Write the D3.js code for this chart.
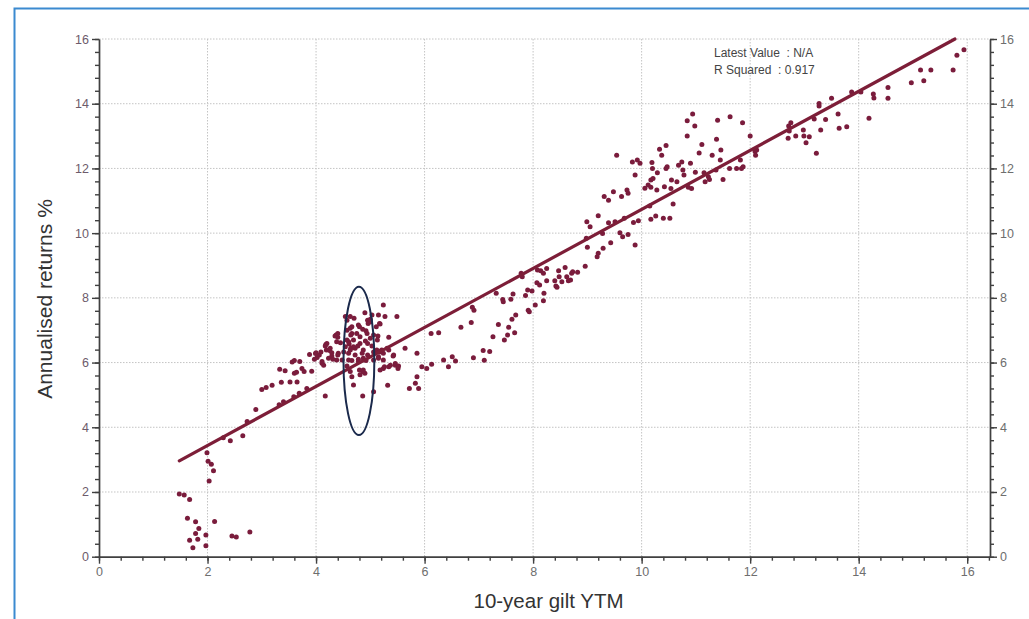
<!DOCTYPE html>
<html>
<head>
<meta charset="utf-8">
<script src="https://cdn.jsdelivr.net/npm/d3@7"></script>
<style>
  html, body { margin: 0; padding: 0; background: #fff; }
  svg { display: block; font-family: 'Liberation Sans', Arial, sans-serif; }
  .grid line { stroke: #c4c4c4; stroke-dasharray: 1.5,1.5; }
  .axis path, .axis line { stroke: #404040; stroke-width: 1.4; }
  .axis text { fill: #6e6e6e; font-size: 12.5px; }
  .axis-left text { fill: #6d5b6b; }
</style>
</head>
<body>
<svg id="chart" width="1029" height="619"></svg>
<script>
// [10-year gilt YTM, annualised return %]
var observations = [
  [1.48,1.94],[1.57,1.91],[1.67,1.77],[1.63,1.19],[1.78,1.08],[1.84,0.87],[1.78,0.72],[1.67,0.51],
  [1.82,0.54],[1.73,0.28],[1.97,0.67],[1.97,0.34],[2.13,1.09],[1.99,3.21],[2.01,2.95],[2.07,2.86],
  [2.11,2.66],[2.03,2.34],[2.45,0.64],[2.53,0.61],[2.78,0.76],[2.42,3.58],[2.65,3.74],[2.89,4.55],
  [2.73,4.18],[2.29,3.68],[3.32,4.70],[3.40,4.79],[3.59,4.94],
  [3.00,5.17],[3.08,5.23],[3.19,5.30],[3.33,5.79],[3.43,5.75],[3.36,5.39],[3.52,5.40],[3.65,5.40],
  [3.56,6.02],[3.60,6.06],[3.70,6.03],[3.60,5.67],[3.64,5.70],[3.74,5.82],[3.78,5.72],[3.92,5.73],
  [3.69,5.05],[3.83,5.20],[3.88,6.25],[3.99,6.28],[4.02,6.16],[4.06,6.23],[3.97,6.10],[4.11,5.98],
  [4.14,5.92],[4.18,6.56],[4.19,6.39],[4.25,6.37],[4.29,6.20],[4.31,6.10],[4.37,6.85],[4.40,6.78],
  [4.41,6.29],[4.48,6.08],[4.17,4.97],[4.54,7.42],[4.57,7.31],[4.63,7.06],[4.66,6.90],[4.69,6.70],
  [4.60,6.64],[4.70,7.37],[4.80,7.11],[4.75,6.90],[4.81,6.59],[4.72,6.44],[4.63,6.39],[4.87,6.39],
  [4.92,6.98],[4.90,7.54],[4.95,7.31],[5.00,7.26],[5.03,7.47],[5.15,7.47],[5.24,7.78],[5.27,7.42],
  [5.49,7.42],[5.18,7.19],[5.14,6.82],[5.00,6.75],[4.87,6.13],[4.78,6.10],[4.60,6.08],[4.57,5.89],
  [4.63,5.72],[4.87,5.77],[4.90,5.67],[4.66,5.56],[4.69,5.31],[4.86,4.97],[5.06,5.10],[5.12,6.39],
  [5.18,6.34],[5.24,6.29],[5.34,6.78],[5.34,6.39],[5.15,6.18],[5.24,6.08],[5.42,6.20],[5.34,5.87],
  [5.24,5.82],[5.46,5.92],[5.51,5.82],[5.32,5.30],[5.64,6.44],[5.86,6.29],[5.95,5.87],[6.04,5.82],
  [6.13,5.95],[6.12,6.90],[6.26,6.92],[6.35,6.08],[6.44,5.87],[5.86,5.56],[5.83,5.36],[5.72,5.20],
  [5.89,5.20],
  [5.00,7.34],[4.96,7.21],[4.63,7.42],[4.66,7.11],[4.78,7.16],[4.86,7.03],[4.57,7.00],[4.64,6.85],
  [4.94,6.90],[5.11,7.11],[5.17,7.21],[4.40,6.90],[4.35,6.82],[4.38,6.64],[4.45,6.61],[4.57,6.70],
  [4.61,6.57],[4.81,6.80],[4.91,6.67],[5.06,6.85],[5.13,6.70],[4.54,6.49],[4.64,6.44],[4.69,6.49],
  [4.77,6.51],[4.95,6.59],[5.03,6.51],[4.51,6.33],[4.60,6.29],[4.72,6.23],[4.85,6.29],[4.95,6.23],
  [5.06,6.33],[5.17,6.33],[5.21,6.39],[5.31,6.44],[5.15,6.13],[5.06,6.08],[4.92,6.06],[4.66,6.06],
  [4.38,6.08],[4.29,6.30],[4.26,6.44],[4.20,6.59],[4.17,6.51],[4.09,6.33],[4.00,6.30],[4.11,6.03],
  [4.23,6.13],[4.40,6.23],[4.78,6.03],[4.80,5.77],[4.86,5.72],[4.81,5.62],[5.18,5.77],[5.26,5.87],
  [5.37,5.92],[5.46,5.97],[5.43,6.23],[5.52,5.89],
  [6.51,6.18],[6.57,6.05],[6.67,7.09],[6.86,7.24],[6.88,7.71],[6.91,7.62],[6.90,6.15],[7.08,6.37],
  [7.10,6.07],[7.20,6.34],[7.26,6.80],[7.32,8.14],[7.36,7.18],[7.44,7.95],[7.45,7.88],[7.47,6.70],
  [7.53,6.85],[7.55,7.09],[7.59,7.96],[7.63,8.12],[7.61,7.34],[7.66,6.92],[7.68,7.47],[7.78,8.76],
  [7.80,8.65],[7.86,8.07],[7.90,8.24],[7.91,7.62],[7.93,7.57],[7.98,8.21],[8.04,7.78],[8.07,8.47],
  [8.12,8.40],[8.08,8.86],[8.14,8.84],[8.19,8.76],[8.25,8.91],[8.20,8.14],[8.19,7.91],[8.25,8.53],
  [8.42,8.37],[8.44,8.33],[8.40,8.53],[8.47,8.84],[8.48,8.65],[8.53,8.50],[8.59,8.94],[8.62,8.65],
  [8.65,8.53],[8.71,8.76],[8.73,8.81],[8.69,8.55],[8.82,8.79],[8.96,8.98],[8.99,10.35],[9.05,10.20],
  [9.00,9.56],[8.98,9.84],[9.18,9.27],[9.20,9.38],[9.20,10.54],
  [9.29,9.53],[9.28,9.99],[9.31,11.13],[9.39,11.02],[9.39,10.32],[9.43,9.70],[9.48,11.28],[9.54,12.41],
  [9.51,10.35],[9.60,10.01],[9.63,11.13],[9.65,9.89],[9.68,10.46],[9.73,11.33],[9.75,11.23],[9.75,9.96],
  [9.85,10.33],[9.88,9.63],[9.83,12.20],[9.88,11.80],[9.92,12.26],[9.97,12.16],[9.94,10.38],[10.06,11.39],
  [10.12,11.49],[10.17,11.42],[10.17,10.43],[10.15,10.84],[10.17,11.64],[10.21,11.69],[10.20,12.00],[10.19,12.18],
  [10.26,10.53],[10.28,11.33],[10.29,11.87],[10.33,12.59],[10.37,12.41],[10.40,10.46],[10.42,11.43],[10.45,12.71],
  [10.45,12.00],[10.47,12.05],[10.52,10.46],[10.55,11.64],[10.54,11.38],[10.58,10.90],[10.65,11.59],[10.68,12.10],
  [10.74,12.20],[10.76,11.95],[10.78,11.80],[10.84,13.00],[10.86,11.42],[10.84,13.47],[10.90,12.16],[10.92,11.38],
  [10.94,13.68],[10.98,13.31],[10.99,11.88],[11.06,12.48],[11.11,12.74],[11.15,11.87],[11.17,11.59],[11.23,11.74],
  [11.25,11.66],[11.30,12.41],[11.37,11.95],[11.38,12.90],[11.40,13.49],[11.45,12.26],[11.46,12.57],[11.50,11.66],
  [11.63,13.60],[11.62,12.00],[11.75,12.00],[11.82,12.26],[11.84,12.00],[11.87,12.05],[11.86,13.41],[12.00,13.00],
  [12.09,12.52],[12.10,12.41],[12.12,12.57],
  [12.71,13.31],[12.75,13.41],[12.72,13.16],[12.70,12.93],[12.84,13.00],[12.98,13.19],[12.99,13.00],[13.03,12.79],
  [13.09,12.98],[13.18,13.53],[13.22,12.47],[13.27,14.01],[13.27,13.93],[13.30,13.19],[13.39,13.51],[13.50,14.17],
  [13.62,13.68],[13.64,13.24],[13.78,13.29],[13.87,14.36],[14.04,14.36],[14.19,13.55],[14.27,14.30],[14.28,14.18],
  [14.54,14.50],[14.54,14.17],[14.97,14.65],[15.14,15.04],[15.20,14.71],[15.33,15.04],[15.74,15.04],[15.81,15.50],
  [15.94,15.67]
]

var majorTicks = [0, 2, 4, 6, 8, 10, 12, 14, 16]
var xDomain = [0, 16.42]
var yDomain = [0, 16]
var minorStep = 0.4

// regression line
var fitSlope = 0.912
var fitIntercept = 1.614

var statLines = ['Latest Value  : N/A', 'R Squared  : 0.917']

// the circled cluster, centre and half-widths in data units
var circledYtm = 4.79
var circledReturn = 6.05
var circledYtmHalf = 0.284
var circledReturnHalf = 2.29

var xTitle = '10-year gilt YTM'
var yTitle = 'Annualised returns %'

var svg = d3.select('#chart')
var margin = { top: 39, right: 39, bottom: 62.3, left: 99 }
var width = 1029 - margin.left - margin.right
var height = 619 - margin.top - margin.bottom

// blue frame, cut off at the right and bottom of the picture
svg.append('path')
  .attr('d', 'M14.5,640 L14.5,8.5 L1040,8.5')
  .attr('fill', 'none')
  .attr('stroke', '#3b8ad0')
  .attr('stroke-width', 2)

var g = svg.append('g')
  .attr('transform', 'translate(' + margin.left + ',' + margin.top + ')')

var x = d3.scaleLinear().domain(xDomain).range([0, width])
var y = d3.scaleLinear().domain(yDomain).range([height, 0])

// dotted grid
var gridValues = majorTicks.filter(function (d) { return d > 0 })
var grid = g.append('g').attr('class', 'grid')
grid.selectAll('.vgrid')
  .data(gridValues)
  .enter()
  .append('line')
  .attr('class', 'vgrid')
  .attr('x1', function (d) { return x(d) })
  .attr('x2', function (d) { return x(d) })
  .attr('y1', 0)
  .attr('y2', height)
grid.selectAll('.hgrid')
  .data(gridValues)
  .enter()
  .append('line')
  .attr('class', 'hgrid')
  .attr('x1', 0)
  .attr('x2', width)
  .attr('y1', function (d) { return y(d) })
  .attr('y2', function (d) { return y(d) })

// axes: minor ticks first, then major ticks with labels
function addAxis (axisFn, scale, cls, transform) {
  var dom = scale.domain()
  var minor = d3.range(dom[0], dom[1] + 0.01, minorStep)
  g.append('g')
    .attr('class', 'axis ' + cls)
    .attr('transform', transform)
    .call(axisFn(scale).tickValues(minor).tickSize(4).tickSizeOuter(0).tickFormat(''))
  g.append('g')
    .attr('class', 'axis ' + cls)
    .attr('transform', transform)
    .call(axisFn(scale).tickValues(majorTicks).tickSize(7).tickSizeOuter(0).tickPadding(3).tickFormat(d3.format('d')))
}
addAxis(d3.axisLeft, y, 'axis-left', 'translate(0,0)')
addAxis(d3.axisRight, y, 'axis-right', 'translate(' + width + ',0)')
addAxis(d3.axisBottom, x, 'axis-bottom', 'translate(0,' + height + ')')

// scatter
g.append('g')
  .selectAll('.obs')
  .data(observations)
  .enter()
  .append('circle')
  .attr('class', 'obs')
  .attr('cx', function (d) { return x(d[0]) })
  .attr('cy', function (d) { return y(d[1]) })
  .attr('r', 2.5)
  .attr('fill', '#7a1c3c')

// fitted line, from the lowest yield until it leaves the top
var fitStart = d3.min(observations, function (d) { return d[0] })
var fitEnd = (yDomain[1] - fitIntercept) / fitSlope
g.append('line')
  .attr('x1', x(fitStart))
  .attr('y1', y(fitIntercept + fitSlope * fitStart))
  .attr('x2', x(fitEnd))
  .attr('y2', y(fitIntercept + fitSlope * fitEnd))
  .attr('stroke', '#7d1e38')
  .attr('stroke-width', 3.2)
  .attr('stroke-linecap', 'round')

// circled cluster
g.append('ellipse')
  .attr('cx', x(circledYtm))
  .attr('cy', y(circledReturn))
  .attr('rx', x(circledYtmHalf) - x(0))
  .attr('ry', y(0) - y(circledReturnHalf))
  .attr('fill', 'none')
  .attr('stroke', '#1b2a4c')
  .attr('stroke-width', 2)

// stats box text
g.selectAll('.stat')
  .data(statLines)
  .enter()
  .append('text')
  .attr('class', 'stat')
  .attr('x', 615)
  .attr('y', function (d, i) { return 18 + i * 17 })
  .style('white-space', 'pre')
  .attr('font-size', 12)
  .attr('fill', '#444')
  .text(function (d) { return d })

// titles
svg.append('text')
  .attr('x', margin.left + width / 2 + 4)
  .attr('y', 608)
  .attr('text-anchor', 'middle')
  .attr('font-size', 20.5)
  .attr('fill', '#333')
  .text(xTitle)

svg.append('text')
  .attr('transform', 'translate(52,' + 299 + ') rotate(-90)')
  .attr('text-anchor', 'middle')
  .attr('font-size', 21)
  .attr('fill', '#333')
  .text(yTitle)
</script>
</body>
</html>
